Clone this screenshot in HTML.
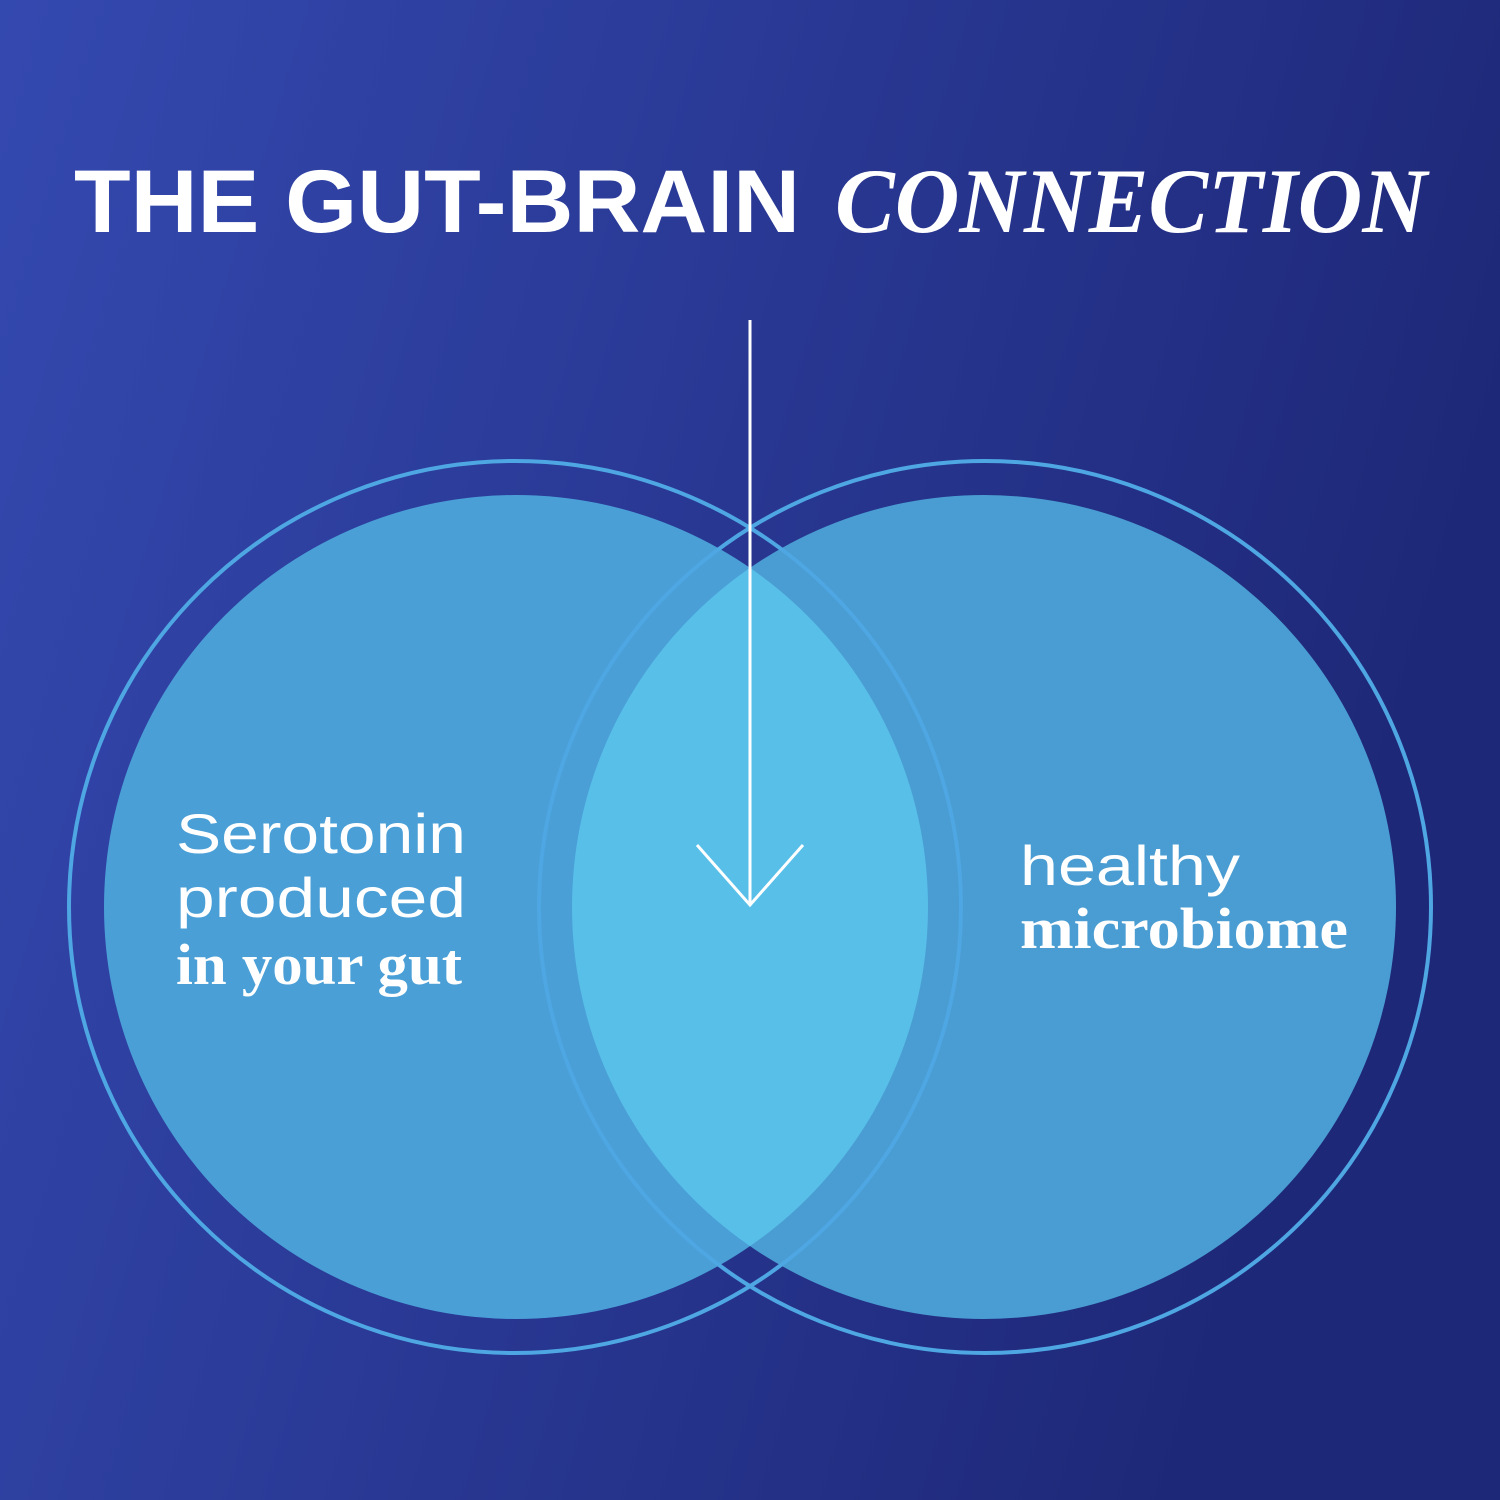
<!DOCTYPE html>
<html><head><style>
html,body{margin:0;padding:0;width:1500px;height:1500px;overflow:hidden}
</style></head><body>
<svg width="1500" height="1500" viewBox="0 0 1500 1500" xmlns="http://www.w3.org/2000/svg">
<defs>
<linearGradient id="bg" x1="0" y1="0" x2="1" y2="0.3">
<stop offset="0" stop-color="#3449b0"/>
<stop offset="1" stop-color="#1e2878"/>
</linearGradient>
<clipPath id="cl"><circle cx="516" cy="907" r="412"/></clipPath>
</defs>
<rect width="1500" height="1500" fill="url(#bg)"/>
<circle cx="516" cy="907" r="412" fill="#4a9fd7"/>
<circle cx="984" cy="907" r="412" fill="#4a9dd2"/>
<circle cx="984" cy="907" r="412" fill="#58bfe9" clip-path="url(#cl)"/>
<circle cx="515" cy="907" r="446" fill="none" stroke="#4ea6e2" stroke-width="4"/>
<circle cx="985" cy="907" r="446" fill="none" stroke="#4ea6e2" stroke-width="4"/>
<line x1="750" y1="320" x2="750" y2="905" stroke="#fff" stroke-width="3"/>
<polyline points="697,845 750,905 803,845" fill="none" stroke="#fff" stroke-width="3"/>
<text x="74" y="232" fill="#fff" font-family="Liberation Sans, sans-serif" font-weight="bold" font-size="89" textLength="726" lengthAdjust="spacingAndGlyphs">THE GUT-BRAIN</text>
<text x="835" y="232" fill="#fff" font-family="Liberation Serif, serif" font-style="italic" font-weight="bold" font-size="92" textLength="592" lengthAdjust="spacingAndGlyphs">CONNECTION</text>
<g fill="#fff" font-family="Liberation Sans, sans-serif" font-size="56">
<text x="176" y="853" textLength="290" lengthAdjust="spacingAndGlyphs">Serotonin</text>
<text x="176" y="917" textLength="290" lengthAdjust="spacingAndGlyphs">produced</text>
<text x="1020" y="885" textLength="220" lengthAdjust="spacingAndGlyphs">healthy</text>
</g>
<g fill="#fff" font-family="Liberation Serif, serif" font-weight="bold" font-size="58">
<text x="176" y="984" textLength="286" lengthAdjust="spacingAndGlyphs">in your gut</text>
<text x="1020" y="948" textLength="328" lengthAdjust="spacingAndGlyphs">microbiome</text>
</g>
</svg>
</body></html>
